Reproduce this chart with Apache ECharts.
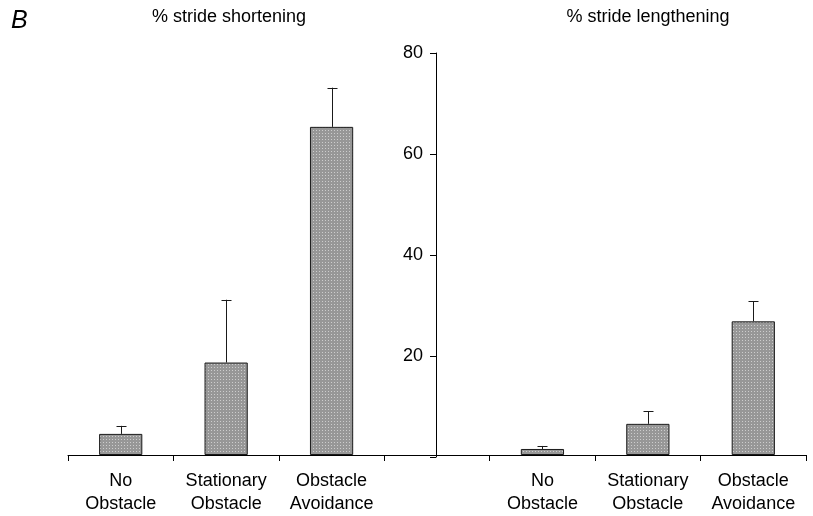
<!DOCTYPE html>
<html>
<head>
<meta charset="utf-8">
<script src="https://cdn.jsdelivr.net/npm/echarts@6/dist/echarts.min.js"></script>
<style>
  html, body { margin: 0; padding: 0; background: #fff; }
  #chart { width: 813px; height: 516px; }
</style>
</head>
<body>
<div id="chart"></div>
<script>
// Conditions shown on each side of the shared y-axis
var conditions = ['No\nObstacle', 'Stationary\nObstacle', 'Obstacle\nAvoidance'];
// Mean % stride shortening and its standard error
var shortening = [4.2, 18.4, 65.3];
var shorteningErr = [1.6, 12.5, 7.8];
// Mean % stride lengthening and its standard error
var lengthening = [1.2, 6.2, 26.6];
var lengtheningErr = [0.6, 2.5, 4.0];
// Y-axis ticks
var yTicks = [0, 20, 40, 60, 80];

// One category row: three shortening bars, an empty gap slot, three lengthening bars
var categories = conditions.concat(['']).concat(conditions);
var barValues = shortening.concat(['-']).concat(lengthening);
var errValues = shorteningErr.concat([null]).concat(lengtheningErr);

// Stippled grey fill
function stipple() {
  var c = document.createElement('canvas');
  c.width = 3; c.height = 3;
  var g = c.getContext('2d');
  g.fillStyle = '#979797';
  g.fillRect(0, 0, 3, 3);
  g.fillStyle = '#cdcdcd';
  g.fillRect(1, 1, 1, 1);
  return c;
}

var errData = [];
barValues.forEach(function (v, i) {
  if (v !== '-') errData.push([i, v, v + errValues[i]]);
});

var font = 'Liberation Sans, Arial, sans-serif';
var chart = echarts.init(document.getElementById('chart'), null, { renderer: 'canvas' });
chart.setOption({
  animation: false,
  backgroundColor: '#fff',
  textStyle: { fontFamily: font },
  graphic: [
    { type: 'text', left: 11, top: 9, style: { text: 'B', font: 'italic 25px ' + font, fill: '#000' } },
    { type: 'text', x: 229, y: 17, style: { text: '% stride shortening', font: '18px ' + font, fill: '#000', textAlign: 'center', textVerticalAlign: 'middle' } },
    { type: 'text', x: 648, y: 17, style: { text: '% stride lengthening', font: '18px ' + font, fill: '#000', textAlign: 'center', textVerticalAlign: 'middle' } }
  ],
  grid: [
    { left: 68, right: 7, top: 53, bottom: 59 },
    { left: 436, right: 376, top: 53, bottom: 59 }
  ],
  xAxis: [
    {
      type: 'category', gridIndex: 0, data: categories,
      axisLine: { show: true, lineStyle: { color: '#000', width: 1 } },
      axisTick: { show: true, alignWithLabel: false, length: 6, interval: 0, lineStyle: { color: '#000' } },
      axisLabel: { interval: 0, color: '#000', fontSize: 18, lineHeight: 23, margin: 15, fontFamily: font }
    },
    { type: 'category', gridIndex: 1, data: [''], show: false }
  ],
  yAxis: [
    { type: 'value', gridIndex: 0, min: yTicks[0], max: yTicks[yTicks.length - 1], interval: 20, show: false },
    {
      type: 'value', gridIndex: 1, min: yTicks[0], max: yTicks[yTicks.length - 1], interval: 20,
      axisLine: { show: true, lineStyle: { color: '#000', width: 1 } },
      axisTick: { show: true, length: 6, lineStyle: { color: '#000' } },
      splitLine: { show: false },
      axisLabel: {
        color: '#000', fontSize: 18, margin: 13, fontFamily: font,
        formatter: function (v) { return v === 0 ? '' : String(v); }
      }
    }
  ],
  series: [
    {
      type: 'bar', xAxisIndex: 0, yAxisIndex: 0, data: barValues, barWidth: '41%',
      itemStyle: { color: { image: stipple(), repetition: 'repeat' }, borderColor: '#1a1a1a', borderWidth: 1 }
    },
    {
      type: 'custom', xAxisIndex: 0, yAxisIndex: 0, data: errData, z: 1,
      renderItem: function (params, api) {
        var base = api.coord([api.value(0), api.value(1)]);
        var top = api.coord([api.value(0), api.value(2)]);
        var x = Math.round(base[0]) + 0.5;
        var st = { stroke: '#1a1a1a', lineWidth: 1 };
        return {
          type: 'group',
          children: [
            { type: 'line', shape: { x1: x, y1: base[1], x2: x, y2: top[1] }, style: st },
            { type: 'line', shape: { x1: x - 5, y1: Math.round(top[1]) + 0.5, x2: x + 5, y2: Math.round(top[1]) + 0.5 }, style: st }
          ]
        };
      }
    }
  ]
});
</script>
</body>
</html>
